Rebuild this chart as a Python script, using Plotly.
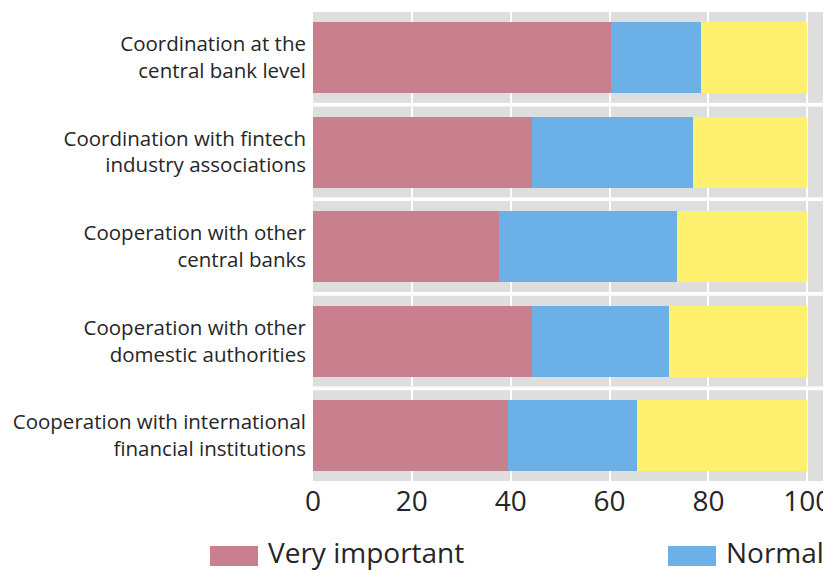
import plotly.graph_objects as go
from plotly.subplots import make_subplots

# --- data ---
categories = [
    "Coordination at the<br>central bank level",
    "Coordination with fintech<br>industry associations",
    "Cooperation with other<br>central banks",
    "Cooperation with other<br>domestic authorities",
    "Cooperation with international<br>financial institutions",
]
very_important = [60.2, 44.3, 37.6, 44.3, 39.4]
normal = [18.2, 32.5, 36.1, 27.7, 26.1]
less_important = [21.6, 23.2, 26.3, 28.0, 34.5]
series_names = ["Very important", "Normal", "Less important"]
x_ticks = [0, 20, 40, 60, 80, 100]

colors = ["#C8808F", "#6BB0E6", "#FFF06E"]
OFF = 8  # page body margin
W, H = 831 - OFF, 572 - OFF
L, R, T, B = 313 - OFF, 0, 12 - OFF, 91
FONT = "Open Sans"

fig = make_subplots(rows=len(categories), cols=1, shared_xaxes=True, vertical_spacing=0.008)

series = [very_important, normal, less_important]
for i, cat in enumerate(categories):
    for name, vals, col in zip(series_names, series, colors):
        fig.add_trace(go.Bar(y=[cat], x=[vals[i]], orientation="h", name=name, width=0.79,
                             marker=dict(color=col, line_width=0), showlegend=False),
                      row=i + 1, col=1)
    fig.update_yaxes(range=[-0.5, 0.5], row=i + 1, col=1)

fig.update_xaxes(range=[0, 104.8], tickvals=x_ticks, showgrid=True, gridcolor="white", gridwidth=2,
                 zeroline=False, showline=False, ticks="", ticklabelstandoff=1,
                 ticklabeloverflow="allow",
                 tickfont=dict(family=FONT, size=28, color="#262626"))
fig.update_yaxes(showgrid=False, zeroline=False, showline=False, ticks="", ticklabelstandoff=6,
                 tickfont=dict(family=FONT, size=20.5, color="#262626"))

# manual legend (big swatches like the source); third entry falls outside the picture
def px_x(p):
    return (p - OFF - L) / (W - L - R)

def px_y(p):
    return (H - B - (p - OFF)) / (H - T - B)

legend_x = [210, 668]
for name, col, x0 in zip(series_names[:2], colors[:2], legend_x):
    fig.add_shape(type="rect", xref="paper", yref="paper", x0=px_x(x0), x1=px_x(x0 + 48),
                  y0=px_y(566), y1=px_y(546), fillcolor=col, line_width=0)
    fig.add_annotation(xref="paper", yref="paper", x=px_x(x0 + 56), y=px_y(552), text=name,
                       showarrow=False, xanchor="left", yanchor="middle",
                       font=dict(family=FONT, size=28, color="#262626"))

fig.update_layout(width=W, height=H, barmode="stack", plot_bgcolor="#DEDEDE", paper_bgcolor="white",
                  margin=dict(l=L, r=R, t=T, b=B), showlegend=False, bargap=0)

fig.write_html("out.html")
